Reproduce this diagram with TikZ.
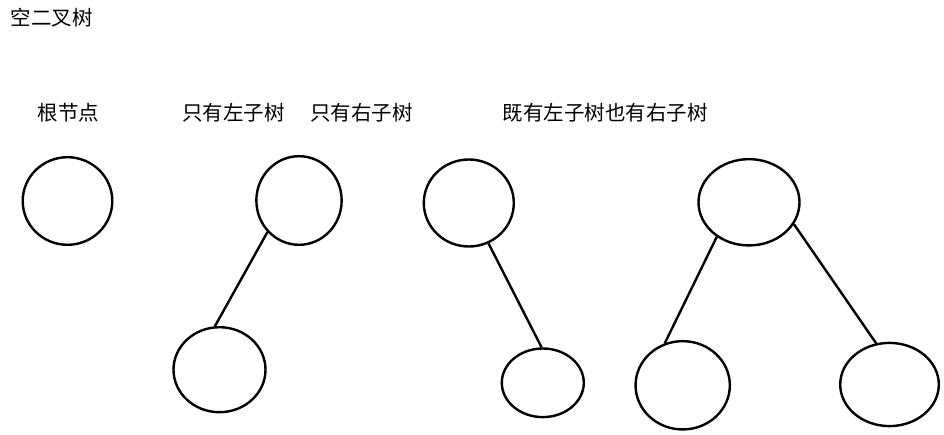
\documentclass[tikz,border=0pt]{standalone}
\usepackage{fontspec}
\setmainfont{Noto Sans CJK SC}
\usepackage{tikz}
\usetikzlibrary{shapes.geometric}

\begin{document}
\begin{tikzpicture}[x=1pt,y=-1pt,
    tnode/.style={draw,ellipse,line width=2.4pt,inner sep=0pt},
    title/.style={anchor=west,inner sep=0pt,font=\fontsize{20.5}{24}\selectfont}]
    \useasboundingbox (0,0) rectangle (944,435);

    \node[title] (t0) at (10.5,17.5) {空二叉树};
    \node[title] (t1) at (37.5,113) {根节点};
    \node[title] (t2) at (182,113) {只有左子树};
    \node[title] (t3) at (310,113) {只有右子树};
    \node[title] (t4) at (502.5,113) {既有左子树也有右子树};

    \node[tnode,minimum width=89.6pt,minimum height=87.6pt] (1) at (67.5,201) {};
    
    \node[tnode,minimum width=85.3pt,minimum height=88.6pt] (2) at (299,200.5) {};
    \node[tnode,minimum width=92pt,minimum height=85pt] (3) at (219.5,369.7) {};
    
    \node[tnode,minimum width=90pt,minimum height=87pt] (4) at (468.8,203) {};
    \node[tnode,minimum width=82pt,minimum height=68.6pt] (5) at (542.8,382.8) {};
    
    \node[tnode,minimum width=101pt,minimum height=86.3pt] (6) at (749,202.3) {};
    \node[tnode,minimum width=94.3pt,minimum height=88.3pt] (7) at (682.7,385.3) {};
    \node[tnode,minimum width=98.6pt,minimum height=83.2pt] (8) at (889.5,384.5) {};
    
    
    \path[line width=2.4pt]
    (2.225) edge (3.96)
    (4.-64) edge (5.92)
    (6.-133) edge (7.113)
    (6.-26) edge (8.108);
  \end{tikzpicture}
\end{document}
